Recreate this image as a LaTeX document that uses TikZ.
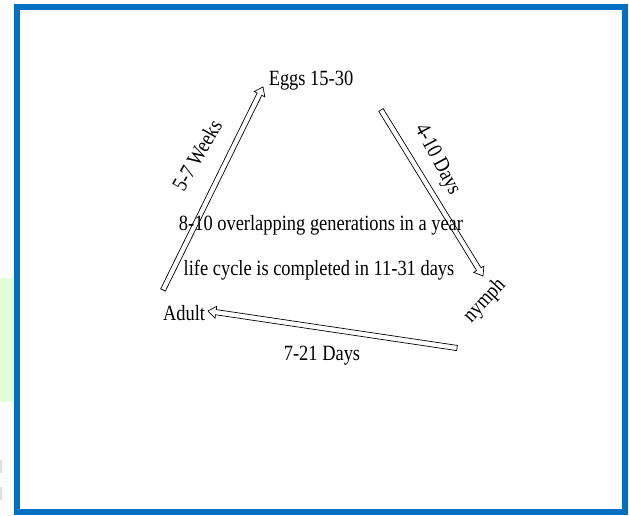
\documentclass[tikz,border=0pt]{standalone}
\usepackage{fontspec}
\usepackage{graphicx}
\setmainfont{Liberation Serif}
\usetikzlibrary{calc}
\definecolor{frameblue}{RGB}{0,112,192}
\definecolor{palegreen}{RGB}{229,252,217}
\newcommand\hollowarrow[2]{%
  \coordinate (hb) at ($(#2)!8bp!(#1)$);
  \draw[blockarr] ($(#1)!2.6bp!90:(#2)$) -- ($(hb)!2.6bp!90:(#2)$) -- ($(hb)!6bp!90:(#2)$) -- (#2)
    -- ($(hb)!6bp!-90:(#2)$) -- ($(hb)!2.6bp!-90:(#2)$) -- ($(#1)!2.6bp!-90:(#2)$) -- cycle;}
\newcommand\tallt[1]{\scalebox{1}[1.18]{#1}}
\begin{document}
\begin{tikzpicture}[x=1bp,y=-1bp,
  lbl/.style={font=\fontsize{18.5}{22}\selectfont, inner sep=0pt},
  blockarr/.style={draw=black, line width=0.7bp, fill=white, line join=miter}]
\useasboundingbox (0,0) rectangle (629,516);
\fill[palegreen] (0,278) rectangle (14,402);
\fill[gray!25] (0,460) rectangle (2,473);
\fill[gray!25] (0,487) rectangle (2,500);
\draw[frameblue, line width=6bp] (17,7.5) rectangle (625,512);

% arrow end points
\coordinate (a1s) at (163,290);
\coordinate (a1t) at (263,87);
\coordinate (a2s) at (381,110);
\coordinate (a2t) at (483,276);
\coordinate (a3s) at (457,348);
\coordinate (a3t) at (208,311);

\hollowarrow{a1s}{a1t}
\hollowarrow{a2s}{a2t}
\hollowarrow{a3s}{a3t}

% labels
\node[lbl] (eggs) at (311,81) {\tallt{Eggs 15-30}};
\node[lbl] (adult) at (184,313) {\tallt{Adult}};
\node[lbl, rotate=47] (nymph) at (485,301) {\tallt{nymph}};
\node[lbl] (gen) at (321,225) {\tallt{8-10 overlapping generations in a year}};
\node[lbl] (life) at (319,270) {\tallt{life cycle is completed in 11-31 days}};
\node[lbl] (d721) at (322,356) {\tallt{7-21 Days}};
\node[lbl, rotate=60] (w57) at (197,155) {\tallt{5-7 Weeks}};
\node[lbl, rotate=-62] (d410) at (437,160) {\tallt{4-10 Days}};
\end{tikzpicture}
\end{document}
